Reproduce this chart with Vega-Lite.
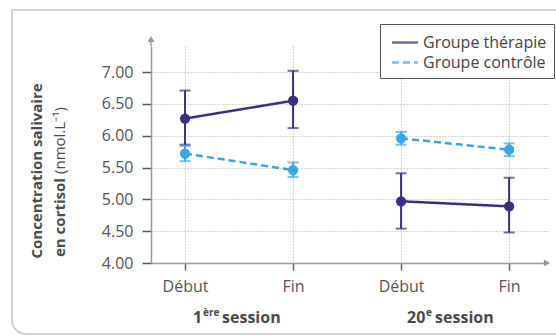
{
  "$schema": "https://vega.github.io/schema/vega-lite/v6.json",
  "width": 397,
  "height": 217,
  "autosize": {"type": "none"},
  "padding": {"left": 151, "top": 46, "right": 8, "bottom": 73},
  "background": "white",
  "config": {
    "view": {"stroke": null},
    "font": "Open Sans"
  },
  "resolve": {"axis": {"x": "independent", "y": "independent"}},
  "datasets": {
    "cortisol": [
      {"group": "Groupe thérapie", "session": "1ère session", "moment": "Début", "t": 1, "mean": 6.27, "lo": 5.86, "hi": 6.71},
      {"group": "Groupe thérapie", "session": "1ère session", "moment": "Fin", "t": 2, "mean": 6.55, "lo": 6.12, "hi": 7.02},
      {"group": "Groupe thérapie", "session": "20e session", "moment": "Début", "t": 3, "mean": 4.97, "lo": 4.54, "hi": 5.41},
      {"group": "Groupe thérapie", "session": "20e session", "moment": "Fin", "t": 4, "mean": 4.89, "lo": 4.48, "hi": 5.34},
      {"group": "Groupe contrôle", "session": "1ère session", "moment": "Début", "t": 1, "mean": 5.72, "lo": 5.6, "hi": 5.84},
      {"group": "Groupe contrôle", "session": "1ère session", "moment": "Fin", "t": 2, "mean": 5.46, "lo": 5.35, "hi": 5.58},
      {"group": "Groupe contrôle", "session": "20e session", "moment": "Début", "t": 3, "mean": 5.96, "lo": 5.86, "hi": 6.06},
      {"group": "Groupe contrôle", "session": "20e session", "moment": "Fin", "t": 4, "mean": 5.78, "lo": 5.68, "hi": 5.88}
    ]
  },
  "layer": [
    {
      "data": {"name": "cortisol"},
      "mark": {"type": "rule", "strokeWidth": 2},
      "encoding": {
        "x": {
          "field": "t", "type": "quantitative",
          "scale": {"domain": [0.685, 4.36], "nice": false, "zero": false},
          "axis": {
            "orient": "bottom",
            "values": [1, 2, 3, 4],
            "labelExpr": "datum.value == 1 || datum.value == 3 ? 'Début' : 'Fin'",
            "title": null,
            "labelFont": "Open Sans",
            "labelFontSize": 16,
            "labelColor": "#555",
            "tickSize": 7,
            "tickColor": "#666",
            "tickWidth": 1.5,
            "labelPadding": 8,
            "domainColor": "#999",
            "domainWidth": 1.5,
            "grid": true,
            "gridDash": [1, 2],
            "gridColor": "#aaa"
          }
        },
        "y": {
          "field": "lo", "type": "quantitative",
          "scale": {"domain": [4, 7.41], "nice": false, "zero": false},
          "axis": {
            "orient": "left",
            "values": [4, 4.5, 5, 5.5, 6, 6.5, 7],
            "format": ".2f",
            "title": null,
            "labelFont": "Open Sans",
            "labelFontSize": 16,
            "labelColor": "#555",
            "tickSize": 9,
            "tickColor": "#555",
            "tickWidth": 1.5,
            "labelPadding": 9,
            "domainColor": "#999",
            "domainWidth": 1.5,
            "grid": true,
            "gridDash": [1, 2],
            "gridColor": "#aaa"
          }
        },
        "y2": {"field": "hi"},
        "color": {
          "field": "group", "type": "nominal",
          "scale": {"domain": ["Groupe thérapie", "Groupe contrôle"], "range": ["#3b2e7e", "#3aa6df"]},
          "legend": {
            "title": null, "orient": "none", "legendX": 229, "legendY": -22,
            "symbolType": "M-0.65,0H1.95", "symbolSize": 400, "symbolStrokeWidth": 2.5,
            "labelFont": "Open Sans", "labelFontSize": 16, "labelColor": "#444",
            "padding": 7, "rowPadding": 0, "labelOffset": 13,
            "strokeColor": "#555", "fillColor": "white"
          }
        }
      }
    },
    {
      "data": {"name": "cortisol"},
      "mark": {"type": "tick", "orient": "horizontal", "size": 11, "thickness": 2},
      "encoding": {
        "x": {"field": "t", "type": "quantitative", "axis": null},
        "y": {"field": "lo", "type": "quantitative", "axis": null},
        "color": {"field": "group", "type": "nominal"}
      }
    },
    {
      "data": {"name": "cortisol"},
      "mark": {"type": "tick", "orient": "horizontal", "size": 11, "thickness": 2},
      "encoding": {
        "x": {"field": "t", "type": "quantitative", "axis": null},
        "y": {"field": "hi", "type": "quantitative", "axis": null},
        "color": {"field": "group", "type": "nominal"}
      }
    },
    {
      "data": {"name": "cortisol"},
      "mark": {"type": "line", "strokeWidth": 2.5},
      "encoding": {
        "x": {"field": "t", "type": "quantitative", "axis": null},
        "y": {"field": "mean", "type": "quantitative", "axis": null},
        "detail": {"field": "session"},
        "color": {"field": "group", "type": "nominal"},
        "strokeDash": {
          "field": "group", "type": "nominal",
          "scale": {"domain": ["Groupe thérapie", "Groupe contrôle"], "range": [[1, 0], [7, 4]]},
          "legend": {
            "title": null, "orient": "none", "legendX": 229, "legendY": -22,
            "symbolType": "M-0.65,0H1.95", "symbolSize": 400, "symbolStrokeWidth": 2.5,
            "labelFont": "Open Sans", "labelFontSize": 16, "labelColor": "#444",
            "padding": 7, "rowPadding": 0, "labelOffset": 13,
            "strokeColor": "#555", "fillColor": "white"
          }
        }
      }
    },
    {
      "data": {"name": "cortisol"},
      "mark": {"type": "point", "filled": true, "size": 105, "opacity": 1},
      "encoding": {
        "x": {"field": "t", "type": "quantitative", "axis": null},
        "y": {"field": "mean", "type": "quantitative", "axis": null},
        "color": {"field": "group", "type": "nominal"}
      }
    },
    {
      "data": {"values": [{}]},
      "mark": {"type": "rect", "fill": "transparent", "stroke": "#c4c4c4", "strokeWidth": 1.5, "cornerRadiusBottomLeft": 14},
      "encoding": {
        "x": {"datum": -0.602, "type": "quantitative", "axis": null},
        "x2": {"datum": 4.6},
        "y": {"datum": 7.976, "type": "quantitative", "axis": null},
        "y2": {"datum": 2.885}
      }
    },
    {
      "data": {"values": [{}]},
      "mark": {"type": "rule", "color": "#999", "strokeWidth": 1.5},
      "encoding": {
        "x": {"datum": 0.685, "type": "quantitative", "axis": null},
        "y": {"datum": 7.41, "type": "quantitative", "axis": null},
        "y2": {"datum": 7.5}
      }
    },
    {
      "data": {"values": [{}]},
      "mark": {"type": "point", "shape": "triangle-up", "filled": true, "size": 50, "color": "#999", "opacity": 1},
      "encoding": {
        "x": {"datum": 0.685, "type": "quantitative", "axis": null},
        "y": {"datum": 7.52, "type": "quantitative", "axis": null}
      }
    },
    {
      "data": {"values": [{}]},
      "mark": {"type": "point", "shape": "triangle-right", "filled": true, "size": 50, "color": "#999", "opacity": 1},
      "encoding": {
        "x": {"datum": 4.35, "type": "quantitative", "axis": null},
        "y": {"datum": 4, "type": "quantitative", "axis": null}
      }
    },
    {
      "data": {"values": [{"label": "Concentration salivaire"}]},
      "mark": {"type": "text", "angle": 270, "align": "center", "baseline": "middle", "font": "Open Sans", "fontSize": 15, "fontWeight": "bold", "color": "#4a4a4a"},
      "encoding": {
        "x": {"datum": -0.3706, "type": "quantitative", "axis": null},
        "y": {"datum": 5.446, "type": "quantitative", "axis": null},
        "text": {"field": "label"}
      }
    },
    {
      "data": {"values": [{"label": "en cortisol"}]},
      "mark": {"type": "text", "angle": 270, "align": "left", "baseline": "middle", "font": "Open Sans", "fontSize": 15, "fontWeight": "bold", "color": "#4a4a4a"},
      "encoding": {
        "x": {"datum": -0.1576, "type": "quantitative", "axis": null},
        "y": {"datum": 4.094, "type": "quantitative", "axis": null},
        "text": {"field": "label"}
      }
    },
    {
      "data": {"values": [{"label": "(nmol.L⁻¹)"}]},
      "mark": {"type": "text", "angle": 270, "align": "left", "baseline": "middle", "font": "Open Sans", "fontSize": 15, "color": "#4a4a4a"},
      "encoding": {
        "x": {"datum": -0.1576, "type": "quantitative", "axis": null},
        "y": {"datum": 5.40, "type": "quantitative", "axis": null},
        "text": {"field": "label"}
      }
    },
    {
      "data": {"values": [{"label": "1"}]},
      "mark": {"type": "text", "align": "left", "baseline": "alphabetic", "dx": -46, "font": "Open Sans", "fontSize": 16, "fontWeight": "bold", "color": "#4a4a4a"},
      "encoding": {
        "x": {"datum": 1.5, "type": "quantitative", "axis": null},
        "y": {"datum": 3.057, "type": "quantitative", "axis": null},
        "text": {"field": "label"}
      }
    },
    {
      "data": {"values": [{"label": "ère"}]},
      "mark": {"type": "text", "align": "left", "baseline": "alphabetic", "dx": -36, "dy": -7, "font": "Open Sans", "fontSize": 10, "fontWeight": "bold", "color": "#4a4a4a"},
      "encoding": {
        "x": {"datum": 1.5, "type": "quantitative", "axis": null},
        "y": {"datum": 3.057, "type": "quantitative", "axis": null},
        "text": {"field": "label"}
      }
    },
    {
      "data": {"values": [{"label": "session"}]},
      "mark": {"type": "text", "align": "left", "baseline": "alphabetic", "dx": -17, "font": "Open Sans", "fontSize": 16, "fontWeight": "bold", "color": "#4a4a4a"},
      "encoding": {
        "x": {"datum": 1.5, "type": "quantitative", "axis": null},
        "y": {"datum": 3.057, "type": "quantitative", "axis": null},
        "text": {"field": "label"}
      }
    },
    {
      "data": {"values": [{"label": "20"}]},
      "mark": {"type": "text", "align": "left", "baseline": "alphabetic", "dx": -48, "font": "Open Sans", "fontSize": 16, "fontWeight": "bold", "color": "#4a4a4a"},
      "encoding": {
        "x": {"datum": 3.5, "type": "quantitative", "axis": null},
        "y": {"datum": 3.057, "type": "quantitative", "axis": null},
        "text": {"field": "label"}
      }
    },
    {
      "data": {"values": [{"label": "e"}]},
      "mark": {"type": "text", "align": "left", "baseline": "alphabetic", "dx": -29, "dy": -7, "font": "Open Sans", "fontSize": 10, "fontWeight": "bold", "color": "#4a4a4a"},
      "encoding": {
        "x": {"datum": 3.5, "type": "quantitative", "axis": null},
        "y": {"datum": 3.057, "type": "quantitative", "axis": null},
        "text": {"field": "label"}
      }
    },
    {
      "data": {"values": [{"label": "session"}]},
      "mark": {"type": "text", "align": "left", "baseline": "alphabetic", "dx": -20, "font": "Open Sans", "fontSize": 16, "fontWeight": "bold", "color": "#4a4a4a"},
      "encoding": {
        "x": {"datum": 3.5, "type": "quantitative", "axis": null},
        "y": {"datum": 3.057, "type": "quantitative", "axis": null},
        "text": {"field": "label"}
      }
    }
  ]
}
